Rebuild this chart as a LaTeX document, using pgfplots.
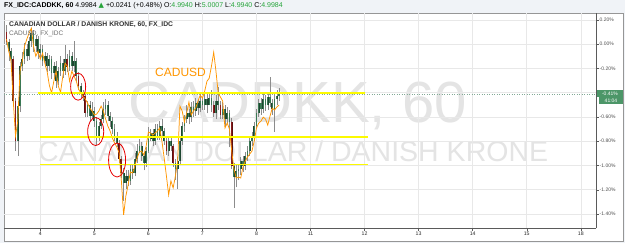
\documentclass[border=0pt]{standalone}
\usepackage{fontspec}
\setmainfont{Liberation Sans}
\newfontfamily\dejavu{DejaVu Sans}
\usepackage{pgfplots}
\pgfplotsset{compat=1.18}
\usepackage{pgfplotstable}
\definecolor{bgtop}{RGB}{240,243,247}
\definecolor{panel}{RGB}{150,150,150}
\definecolor{wm}{RGB}{228,228,228}
\definecolor{axisc}{RGB}{90,90,90}
\definecolor{gridc}{RGB}{232,232,232}
\definecolor{labc}{RGB}{80,80,80}
\definecolor{xlabc}{RGB}{40,40,40}
\definecolor{upfill}{RGB}{58,120,84}
\definecolor{upline}{RGB}{30,70,48}
\definecolor{dnfill}{RGB}{140,28,28}
\definecolor{dnline}{RGB}{90,15,15}
\definecolor{wick}{RGB}{140,140,140}
\definecolor{orangec}{RGB}{255,150,0}
\definecolor{yel}{RGB}{252,250,0}
\definecolor{dotc}{RGB}{130,170,150}
\definecolor{boxg}{RGB}{76,150,104}
\definecolor{upg}{RGB}{40,165,60}
\definecolor{titc}{RGB}{51,51,51}
\definecolor{subc}{RGB}{110,110,110}
\definecolor{redc}{RGB}{230,0,0}

\pgfplotstableread{
h O H L C d
-15 0.099 0.156 -0.010 0.016 1
-14 0.016 0.040 -0.140 -0.058 0
-13 -0.058 -0.030 -0.222 -0.123 0
-12 -0.123 -0.099 -0.500 -0.469 1
-11 -0.469 -0.440 -0.880 -0.798 1
-10 -0.798 -0.470 -0.922 -0.510 0
-9 -0.510 -0.150 -0.560 -0.181 0
-8 -0.181 -0.060 -0.220 -0.123 0
-7 -0.123 0.010 -0.160 -0.041 0
-6 -0.041 0.000 -0.140 -0.099 0
-5 -0.099 0.060 -0.130 0.025 0
-4 0.025 0.130 -0.020 0.091 0
-3 0.091 0.120 -0.060 -0.016 0
-2 -0.016 0.080 -0.060 0.041 0
-1 0.041 0.070 -0.120 -0.074 0
0 -0.074 0.000 -0.110 -0.041 0
1 -0.041 -0.010 -0.180 -0.140 0
2 -0.140 -0.060 -0.190 -0.099 0
3 -0.099 -0.070 -0.230 -0.181 0
4 -0.181 -0.090 -0.220 -0.123 0
5 -0.123 -0.100 -0.290 -0.239 0
6 -0.239 -0.150 -0.280 -0.181 0
7 -0.181 -0.140 -0.360 -0.305 0
8 -0.305 -0.190 -0.340 -0.222 0
9 -0.222 -0.100 -0.260 -0.156 0
10 -0.156 -0.120 -0.280 -0.222 0
11 -0.222 -0.010 -0.250 -0.123 0
12 -0.123 -0.080 -0.230 -0.189 1
13 -0.189 -0.050 -0.220 -0.099 0
14 -0.099 -0.060 -0.220 -0.181 0
15 -0.181 0.030 -0.230 -0.140 0
16 -0.140 -0.110 -0.300 -0.263 0
17 -0.263 -0.230 -0.380 -0.346 1
18 -0.346 -0.320 -0.440 -0.403 0
19 -0.403 -0.380 -0.470 -0.428 0
20 -0.428 -0.410 -0.600 -0.568 1
21 -0.568 -0.470 -0.600 -0.502 0
22 -0.502 -0.470 -0.640 -0.593 0
23 -0.593 -0.480 -0.620 -0.551 0
24 -0.551 -0.520 -0.680 -0.634 0
25 -0.634 -0.600 -0.830 -0.757 0
26 -0.757 -0.640 -0.800 -0.675 0
27 -0.675 -0.580 -0.700 -0.617 0
28 -0.617 -0.480 -0.650 -0.535 0
29 -0.535 -0.450 -0.580 -0.502 0
30 -0.502 -0.470 -0.630 -0.593 0
31 -0.593 -0.560 -0.680 -0.634 0
32 -0.634 -0.600 -0.740 -0.700 0
33 -0.700 -0.660 -0.800 -0.757 0
34 -0.757 -0.720 -0.850 -0.815 0
35 -0.815 -0.790 -0.980 -0.946 1
36 -0.946 -0.920 -1.100 -1.062 1
37 -1.062 -1.020 -1.290 -1.144 0
38 -1.144 -1.040 -1.190 -1.086 0
39 -1.086 -1.040 -1.170 -1.127 0
40 -1.127 -0.990 -1.160 -1.029 0
41 -1.029 -0.990 -1.110 -1.062 0
42 -1.062 -0.900 -1.090 -0.946 0
43 -0.946 -0.820 -0.980 -0.881 0
44 -0.881 -0.780 -0.900 -0.839 0
45 -0.839 -0.810 -0.960 -0.922 0
46 -0.922 -0.890 -1.040 -0.979 0
47 -0.979 -0.850 -1.010 -0.881 0
48 -0.881 -0.680 -0.900 -0.782 0
49 -0.782 -0.700 -0.800 -0.732 0
50 -0.732 -0.700 -0.840 -0.798 0
51 -0.798 -0.660 -0.830 -0.700 0
52 -0.700 -0.660 -0.790 -0.757 0
53 -0.757 -0.630 -0.790 -0.675 0
54 -0.675 -0.620 -0.760 -0.716 0
55 -0.716 -0.690 -0.830 -0.798 0
56 -0.798 -0.770 -0.910 -0.881 1
57 -0.881 -0.760 -0.920 -0.798 0
58 -0.798 -0.770 -0.880 -0.839 0
59 -0.839 -0.820 -1.010 -0.979 1
60 -0.979 -0.950 -1.120 -1.029 0
61 -1.029 -0.930 -1.190 -0.963 0
62 -0.963 -0.760 -1.000 -0.798 0
63 -0.798 -0.640 -0.830 -0.675 0
64 -0.675 -0.580 -0.720 -0.617 0
65 -0.617 -0.500 -0.650 -0.568 0
66 -0.568 -0.530 -0.660 -0.601 0
67 -0.601 -0.480 -0.640 -0.518 0
68 -0.518 -0.470 -0.600 -0.551 0
69 -0.551 -0.440 -0.590 -0.486 0
70 -0.486 -0.450 -0.580 -0.527 0
71 -0.527 -0.400 -0.560 -0.469 0
72 -0.469 -0.440 -0.540 -0.502 0
73 -0.502 -0.410 -0.540 -0.453 0
74 -0.453 -0.400 -0.570 -0.502 0
75 -0.502 -0.400 -0.500 -0.444 0
76 -0.444 -0.380 -0.560 -0.502 0
77 -0.502 -0.470 -0.600 -0.568 1
78 -0.568 -0.420 -0.620 -0.469 0
79 -0.469 -0.350 -0.540 -0.502 0
80 -0.502 -0.470 -0.620 -0.584 1
81 -0.584 -0.480 -0.620 -0.535 0
82 -0.535 -0.500 -0.680 -0.617 0
83 -0.617 -0.520 -0.650 -0.568 0
84 -0.568 -0.540 -0.850 -0.642 0
85 -0.642 -0.610 -1.030 -1.004 1
86 -1.004 -0.980 -1.350 -1.095 0
87 -1.095 -1.000 -1.180 -1.045 0
88 -1.045 -0.990 -1.120 -1.029 0
89 -1.029 -0.930 -1.080 -0.963 0
90 -0.963 -0.920 -1.050 -1.004 0
91 -1.004 -0.890 -1.040 -0.922 0
92 -0.922 -0.840 -0.960 -0.881 0
93 -0.881 -0.760 -0.920 -0.798 0
94 -0.798 -0.720 -0.840 -0.757 0
95 -0.757 -0.640 -0.800 -0.675 0
96 -0.675 -0.530 -0.700 -0.568 0
97 -0.568 -0.450 -0.600 -0.486 0
98 -0.486 -0.440 -0.580 -0.535 0
99 -0.535 -0.410 -0.570 -0.453 0
100 -0.453 -0.420 -0.550 -0.502 0
101 -0.502 -0.400 -0.540 -0.436 0
102 -0.436 -0.270 -0.520 -0.486 0
103 -0.486 -0.450 -0.580 -0.535 0
104 -0.535 -0.400 -0.720 -0.453 0
105 -0.453 -0.380 -0.500 -0.428 0
106 -0.428 -0.360 -0.470 -0.410 0
}\candles

\pgfplotstableread{
h v
-15 0.041
-14 -0.058
-13 -0.140
-12 -0.469
-11 -0.757
-10 -0.634
-9 -0.222
-8 -0.140
-7 -0.016
-6 0.041
-5 0.091
-4 0.132
-3 -0.016
-2 -0.099
-1 -0.058
0 -0.123
1 -0.074
2 -0.156
3 -0.222
4 -0.337
5 -0.403
6 -0.305
7 -0.222
8 -0.346
9 -0.395
10 -0.263
11 -0.156
12 -0.181
13 -0.305
14 -0.222
15 -0.263
16 -0.305
17 -0.370
18 -0.403
19 -0.428
20 -0.453
21 -0.486
22 -0.527
23 -0.551
24 -0.584
25 -0.576
26 -0.551
27 -0.510
28 -0.551
29 -0.617
30 -0.675
31 -0.716
32 -0.774
33 -0.815
34 -0.848
35 -0.897
36 -1.127
37 -1.407
38 -1.251
39 -1.160
40 -1.053
41 -1.062
42 -1.004
43 -0.938
44 -0.889
45 -0.881
46 -0.914
47 -0.839
48 -0.724
49 -0.732
50 -0.749
51 -0.732
52 -0.716
53 -0.691
54 -0.798
55 -0.938
56 -1.086
57 -1.243
58 -1.127
59 -1.185
60 -1.086
61 -0.963
62 -0.510
63 -0.551
64 -0.642
65 -0.568
66 -0.477
67 -0.584
68 -0.551
69 -0.527
70 -0.469
71 -0.420
72 -0.444
73 -0.387
74 -0.305
75 -0.280
76 -0.181
77 -0.066
78 -0.222
79 -0.403
80 -0.436
81 -0.469
82 -0.691
83 -0.650
84 -0.700
85 -0.881
86 -1.029
87 -1.103
88 -1.095
89 -1.103
90 -1.012
91 -0.963
92 -0.930
93 -0.905
94 -0.881
95 -0.798
96 -0.691
97 -0.650
98 -0.634
99 -0.601
100 -0.617
101 -0.667
102 -0.593
103 -0.527
104 -0.543
105 -0.518
106 -0.502
}\cadusd

\pgfplotstableread{
x y
-0.13 -0.763
145.5 -0.763
nan nan
-0.13 -0.990
145.5 -0.990
}\levels

\pgfplotstableread{
x y
-1.0 -0.404
144.2 -0.404
}\topline

\begin{document}
\begin{tikzpicture}[x=1pt,y=1pt]
\useasboundingbox (0,0) rectangle (625,243);
\fill[bgtop] (0,0) rectangle (625,243);
\fill[white] (4,2) rectangle (623,229.7);
\draw[panel, line width=0.7pt] (4,2) rectangle (623,229.7);
% watermark
\node[anchor=base west, text=wm, font=\fontsize{58}{58}\selectfont, inner sep=0] at (128,120) {CADDKK, 60};
\node[anchor=base west, text=wm, font=\fontsize{28.5}{28.5}\selectfont, inner sep=0] at (38,81) {CANADIAN DOLLAR / DANISH KRONE};
\begin{axis}[
  at={(4pt,14.5pt)}, anchor=south west,
  scale only axis, width=592pt, height=215.2pt,
  xmin=-16.12, xmax=246.76, ymin=-1.5196, ymax=0.2553,
  axis x line*=bottom, axis y line*=right,
  axis line style={-, draw=axisc, line width=0.6pt},
  xtick={0,24,48,72,96,120,144,168,192,216,240},
  xticklabels={4,5,6,7,8,11,12,13,14,15,18},
  ytick={-1.4,-1.2,-1,-0.8,-0.6,-0.4,-0.2,0,0.2},
  yticklabels={-1.40\%,-1.20\%,-1.00\%,-0.80\%,-0.60\%,{},-0.20\%,0.00\%,0.20\%},
  tick align=outside, major tick length=2.5pt,
  tick style={draw=axisc, line width=0.4pt},
  grid=major, major grid style={draw=gridc, line width=0.5pt},
  ticklabel style={font=\fontsize{5}{6}\selectfont, text=labc},
  xticklabel style={inner sep=1pt, text=xlabc, font=\fontsize{5.2}{6}\selectfont},
  yticklabel style={inner sep=1pt},
  clip=false,
  unbounded coords=jump,
  error bars/error mark=none,
]
% current level dotted
\addplot[dotc, dotted, line width=0.5pt] table[x=h, y=v] {
h v
-16.12 -0.412
246.76 -0.412
};
% wicks
\addplot[solid, draw=none, mark=none, error bars/.cd, y dir=plus, y explicit,
  error bar style={solid, draw=wick, line width=0.5pt}]
  table[x=h, y=L, y error expr={\thisrow{H}-\thisrow{L}}] {\candles};
% green bodies
\addplot[draw=none, mark=none, restrict expr to domain={\thisrow{d}}{-0.5:0.5},
  error bars/.cd, y dir=plus, y explicit,
  error bar style={solid, draw=upline, line width=1.75pt}]
  table[x=h, y expr={min(\thisrow{O},\thisrow{C})}, y error expr={max(abs(\thisrow{C}-\thisrow{O}),0.01)}] {\candles};
\addplot[draw=none, mark=none, restrict expr to domain={\thisrow{d}}{-0.5:0.5},
  error bars/.cd, y dir=plus, y explicit,
  error bar style={solid, draw=upfill, line width=1.05pt}]
  table[x=h, y expr={min(\thisrow{O},\thisrow{C})}, y error expr={max(abs(\thisrow{C}-\thisrow{O}),0.01)}] {\candles};
% red bodies
\addplot[draw=none, mark=none, restrict expr to domain={\thisrow{d}}{0.5:1.5},
  error bars/.cd, y dir=plus, y explicit,
  error bar style={solid, draw=dnline, line width=1.75pt}]
  table[x=h, y expr={min(\thisrow{O},\thisrow{C})}, y error expr={max(abs(\thisrow{C}-\thisrow{O}),0.01)}] {\candles};
\addplot[draw=none, mark=none, restrict expr to domain={\thisrow{d}}{0.5:1.5},
  error bars/.cd, y dir=plus, y explicit,
  error bar style={solid, draw=dnfill, line width=1.05pt}]
  table[x=h, y expr={min(\thisrow{O},\thisrow{C})}, y error expr={max(abs(\thisrow{C}-\thisrow{O}),0.01)}] {\candles};
% CADUSD
\addplot[solid, orangec, line width=0.75pt] table[x=h, y=v] {\cadusd};
% yellow levels
\addplot[solid, yel, line width=1.5pt] table[x=x, y=y] {\levels};
\addplot[solid, yel, line width=1.5pt] table[x=x, y=y] {\topline};
% red circles
\draw[redc, solid, line width=0.8pt] (axis cs:16.8,-0.35) ellipse [x radius=7.5pt, y radius=13.5pt];
\draw[redc, solid, line width=0.8pt] (axis cs:24.6,-0.72) ellipse [x radius=8pt, y radius=14pt];
\draw[redc, solid, line width=0.8pt] (axis cs:34.1,-0.955) ellipse [x radius=8.5pt, y radius=17pt];
\end{axis}
% right axis current value boxes
\fill[boxg] (597,146) rectangle (623,153);
\node[text=white, font=\fontsize{5}{6}\selectfont, inner sep=0] at (610,149.5) {-0.41\%};
\fill[boxg] (599,139) rectangle (623,145.5);
\node[text=white, font=\fontsize{5}{6}\selectfont, inner sep=0] at (611,142.2) {41:04};
% titles
\node[anchor=west, inner sep=0, font=\fontsize{6.8}{7}\selectfont\bfseries, text=titc] at (9,218) {CANADIAN DOLLAR / DANISH KRONE, 60, FX\_IDC};
\node[anchor=west, inner sep=0, font=\fontsize{6.5}{7}\selectfont, text=subc] at (9,209) {CADUSD, FX\_IDC};
\node[anchor=base west, inner sep=0, text=orangec, font=\fontsize{12}{12}\selectfont] at (155,166) {CADUSD};
% top bar
\node[anchor=west, inner sep=0, font=\fontsize{7}{8}\selectfont] at (4,237) {\textbf{FX\_IDC:CADDKK, 60} 4.9984 {\dejavu\textcolor{upg}{▲}} +0.0241 (+0.48\%) O:\textcolor{upg}{4.9940} H:\textcolor{upg}{5.0007} L:\textcolor{upg}{4.9940} C:\textcolor{upg}{4.9984}};
\end{tikzpicture}
\end{document}
